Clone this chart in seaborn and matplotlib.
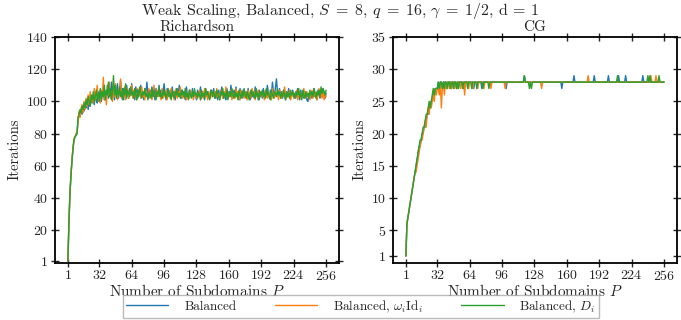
import matplotlib
matplotlib.use('Agg')

import matplotlib.pyplot as plt
import seaborn as sns
import pandas as pd
import numpy as np

# Richardson iterations, P = 1..256
rich_bal = [
    1, 24, 42, 54, 63, 71, 76, 78, 79, 80, 88, 93, 91, 95, 92, 97,
    94, 99, 96, 101, 95, 100, 97, 103, 99, 102, 98, 104, 101, 99, 106, 102,
    107, 100, 104, 109, 101, 106, 103, 110, 102, 108, 105, 112, 103, 107, 101, 109,
    104, 111, 102, 106, 113, 104, 108, 101, 107, 103, 110, 105, 102, 108, 104, 111,
    103, 106, 101, 109, 105, 102, 107, 104, 110, 103, 106, 101, 108, 104, 112, 105,
    102, 107, 104, 109, 103, 106, 101, 108, 105, 103, 110, 104, 107, 102, 106, 111,
    104, 101, 108, 105, 103, 107, 102, 109, 104, 106, 101, 108, 103, 105, 110, 104,
    102, 107, 103, 106, 101, 109, 104, 102, 107, 105, 103, 108, 102, 106, 104, 101,
    107, 103, 105, 109, 102, 106, 104, 101, 108, 103, 106, 104, 102, 107, 105, 103,
    108, 102, 106, 104, 101, 107, 103, 105, 109, 102, 106, 103, 101, 108, 104, 106,
    103, 110, 105, 102, 107, 104, 109, 103, 106, 101, 108, 104, 102, 107, 105, 103,
    106, 102, 108, 104, 101, 107, 103, 105, 102, 109, 104, 106, 101, 107, 103, 105,
    102, 108, 104, 106, 103, 110, 105, 102, 107, 104, 112, 106, 103, 109, 114, 105,
    103, 108, 104, 106, 102, 107, 104, 101, 106, 103, 108, 102, 105, 103, 107, 104,
    102, 106, 103, 108, 104, 101, 107, 103, 105, 102, 106, 104, 101, 100, 105, 103,
    106, 102, 104, 108, 103, 105, 101, 107, 104, 102, 106, 103, 108, 104, 102, 105,
]
rich_omega = [
    1, 25, 43, 55, 64, 71, 77, 78, 80, 81, 87, 94, 90, 96, 98, 93,
    100, 95, 102, 97, 104, 98, 106, 100, 103, 99, 108, 101, 105, 110, 100, 104,
    99, 107, 103, 115, 101, 105, 98, 109, 104, 112, 102, 106, 100, 108, 103, 111,
    105, 101, 107, 104, 114, 102, 106, 103, 109, 101, 105, 108, 102, 106, 104, 110,
    102, 107, 103, 105, 101, 108, 104, 106, 102, 109, 103, 105, 101, 107, 104, 102,
    108, 103, 106, 101, 105, 110, 104, 102, 107, 103, 106, 104, 101, 108, 102, 105,
    103, 107, 101, 106, 104, 102, 108, 103, 105, 101, 107, 104, 102, 106, 103, 109,
    104, 102, 106, 103, 108, 101, 105, 104, 102, 107, 103, 105, 101, 106, 104, 102,
    105, 103, 107, 101, 104, 106, 102, 108, 103, 105, 101, 106, 104, 102, 107, 103,
    104, 106, 102, 108, 103, 105, 101, 107, 104, 102, 106, 103, 109, 104, 102, 105,
    103, 107, 101, 105, 104, 102, 108, 103, 106, 104, 101, 107, 103, 105, 102, 106,
    104, 101, 107, 103, 105, 102, 108, 104, 106, 101, 105, 103, 107, 102, 104, 106,
    103, 105, 101, 107, 104, 102, 106, 103, 105, 101, 108, 104, 102, 106, 103, 105,
    101, 107, 104, 102, 106, 103, 109, 104, 102, 105, 103, 107, 101, 104, 106, 102,
    105, 103, 107, 101, 104, 106, 102, 105, 103, 108, 104, 102, 106, 103, 105, 101,
    104, 107, 102, 105, 103, 106, 101, 104, 108, 103, 105, 102, 106, 101, 104, 103,
]
rich_d = [
    1, 25, 43, 54, 63, 70, 76, 78, 79, 80, 90, 92, 95, 93, 97, 95,
    99, 96, 101, 98, 103, 100, 97, 104, 101, 106, 99, 103, 107, 101, 105, 100,
    108, 102, 106, 103, 110, 101, 107, 104, 112, 103, 108, 101, 106, 116, 104, 110,
    102, 107, 104, 109, 103, 106, 101, 108, 104, 111, 102, 107, 105, 103, 109, 104,
    106, 102, 108, 104, 101, 107, 103, 109, 105, 102, 106, 104, 108, 103, 105, 101,
    106, 104, 102, 108, 103, 107, 105, 101, 106, 104, 109, 103, 105, 102, 107, 104,
    106, 102, 104, 108, 103, 105, 101, 107, 104, 102, 106, 104, 108, 103, 105, 102,
    107, 104, 106, 102, 108, 103, 105, 101, 107, 104, 102, 106, 103, 108, 104, 105,
    102, 106, 104, 101, 107, 103, 105, 102, 108, 104, 106, 103, 101, 105, 107, 103,
    106, 104, 102, 107, 105, 103, 101, 106, 104, 108, 102, 105, 103, 107, 101, 104,
    106, 103, 108, 104, 102, 106, 103, 105, 101, 107, 104, 102, 106, 103, 108, 104,
    102, 106, 104, 101, 105, 107, 103, 106, 104, 102, 108, 103, 105, 101, 106, 104,
    107, 103, 105, 102, 108, 104, 106, 103, 101, 107, 104, 102, 106, 105, 103, 108,
    104, 106, 102, 105, 103, 107, 104, 101, 106, 103, 105, 102, 107, 104, 106, 103,
    105, 102, 106, 104, 108, 103, 105, 101, 107, 104, 102, 106, 103, 105, 102, 107,
    104, 106, 103, 108, 105, 102, 106, 104, 107, 103, 109, 105, 108, 106, 104, 107,
]

# CG iterations, P = 1..256
cg_bal = [
    1, 6, 7, 8, 9, 10, 11, 12, 13, 14, 15, 16, 17, 18, 18, 19,
    20, 20, 21, 21, 22, 23, 23, 24, 24, 25, 25, 26, 26, 27, 27, 27,
    28, 27, 28, 28, 27, 28, 28, 28, 27, 28, 28, 28, 28, 27, 28, 28,
    28, 28, 27, 28, 28, 28, 28, 28, 28, 27, 28, 28, 28, 28, 28, 28,
    28, 28, 28, 27, 28, 28, 28, 28, 28, 28, 28, 27, 28, 28, 28, 28,
    28, 28, 28, 28, 28, 28, 28, 28, 28, 28, 28, 28, 28, 28, 28, 28,
    28, 28, 28, 27, 28, 28, 28, 28, 28, 28, 28, 28, 28, 28, 28, 28,
    28, 28, 28, 28, 28, 29, 28, 28, 28, 28, 28, 28, 28, 28, 28, 28,
    28, 28, 28, 28, 28, 28, 28, 28, 28, 28, 28, 28, 28, 28, 28, 28,
    28, 28, 28, 28, 28, 28, 28, 28, 28, 28, 27, 28, 28, 28, 28, 28,
    28, 28, 28, 28, 28, 28, 29, 28, 28, 28, 28, 28, 28, 28, 28, 28,
    28, 28, 28, 28, 28, 28, 28, 28, 28, 28, 29, 28, 28, 28, 28, 28,
    28, 28, 28, 28, 28, 28, 28, 28, 29, 28, 28, 28, 28, 28, 28, 28,
    28, 28, 29, 28, 28, 28, 28, 28, 28, 29, 28, 28, 28, 28, 28, 28,
    28, 28, 28, 28, 28, 28, 28, 28, 28, 28, 29, 28, 28, 28, 28, 28,
    28, 28, 28, 28, 28, 28, 28, 28, 28, 28, 28, 28, 28, 28, 28, 28,
]
cg_omega = [
    1, 6, 7, 8, 9, 10, 11, 12, 13, 14, 14, 15, 16, 17, 18, 19,
    19, 20, 21, 22, 21, 23, 24, 23, 25, 24, 25, 26, 25, 27, 26, 27,
    27, 26, 28, 24, 27, 28, 26, 28, 27, 28, 28, 27, 28, 27, 28, 28,
    27, 28, 28, 27, 28, 28, 27, 28, 28, 28, 26, 28, 28, 28, 27, 28,
    28, 28, 27, 28, 28, 28, 28, 27, 28, 28, 28, 28, 28, 27, 28, 28,
    28, 28, 28, 28, 27, 28, 28, 28, 28, 28, 28, 28, 28, 28, 28, 28,
    28, 28, 27, 28, 28, 28, 28, 28, 28, 28, 28, 28, 28, 28, 28, 28,
    28, 28, 28, 28, 28, 28, 28, 28, 28, 28, 28, 28, 28, 28, 28, 28,
    28, 28, 28, 28, 28, 28, 27, 28, 28, 28, 28, 28, 28, 28, 28, 28,
    28, 28, 28, 28, 28, 28, 28, 28, 28, 28, 28, 28, 28, 28, 28, 28,
    28, 28, 28, 28, 28, 28, 28, 28, 28, 28, 28, 28, 28, 28, 28, 28,
    28, 28, 28, 28, 29, 28, 28, 28, 28, 28, 28, 28, 28, 28, 28, 28,
    28, 28, 28, 28, 28, 28, 28, 28, 28, 28, 28, 28, 28, 28, 28, 28,
    28, 28, 28, 28, 28, 28, 28, 28, 28, 28, 28, 28, 28, 28, 28, 28,
    28, 28, 28, 28, 28, 28, 28, 28, 28, 28, 28, 28, 28, 28, 28, 28,
    28, 28, 29, 28, 28, 28, 28, 29, 28, 28, 28, 28, 28, 28, 28, 28,
]
cg_d = [
    1, 6, 7, 8, 9, 10, 11, 12, 13, 14, 15, 16, 17, 18, 19, 19,
    20, 21, 21, 22, 23, 23, 24, 25, 24, 25, 26, 27, 26, 27, 27, 27,
    28, 27, 28, 28, 27, 28, 27, 28, 28, 27, 28, 28, 27, 28, 28, 27,
    28, 28, 27, 28, 27, 28, 28, 28, 27, 28, 28, 28, 28, 27, 28, 28,
    28, 27, 28, 28, 28, 28, 27, 28, 28, 28, 28, 28, 27, 28, 28, 28,
    28, 28, 27, 28, 28, 28, 28, 28, 28, 28, 28, 28, 28, 28, 28, 28,
    28, 28, 28, 28, 28, 28, 28, 28, 28, 28, 28, 28, 28, 28, 28, 28,
    28, 28, 28, 28, 28, 29, 28, 28, 28, 28, 27, 28, 27, 28, 28, 28,
    28, 28, 28, 28, 28, 28, 28, 28, 28, 28, 28, 28, 28, 28, 28, 28,
    28, 28, 28, 28, 28, 28, 28, 28, 28, 28, 28, 28, 28, 28, 28, 28,
    28, 28, 28, 28, 28, 28, 28, 28, 28, 28, 28, 28, 28, 28, 28, 28,
    28, 28, 28, 28, 28, 28, 28, 28, 28, 28, 28, 28, 28, 28, 28, 28,
    28, 28, 28, 28, 28, 28, 28, 28, 28, 28, 28, 28, 28, 28, 28, 28,
    28, 29, 28, 28, 28, 28, 28, 28, 28, 28, 28, 28, 28, 28, 28, 28,
    28, 28, 28, 28, 28, 28, 28, 28, 28, 28, 28, 28, 28, 28, 28, 29,
    28, 29, 28, 28, 28, 28, 28, 28, 28, 28, 29, 28, 28, 28, 28, 28,
]

labels = ['Balanced', r'Balanced, $\omega_i \mathrm{Id}_i$', r'Balanced, $D_i$']
colors = ['#1f77b4', '#ff7f0e', '#2ca02c']
x_ticks = [1, 32, 64, 96, 128, 160, 192, 224, 256]
rich_yticks = [1, 20, 40, 60, 80, 100, 120, 140]
cg_yticks = [1, 5, 10, 15, 20, 25, 30, 35]


def to_frame(series):
    rows = []
    for lab, ys in zip(labels, series):
        for p, v in enumerate(ys, start=1):
            rows.append({'P': p, 'it': v, 'method': lab})
    return pd.DataFrame(rows)


sns.set_theme(style='ticks')
plt.rcParams['font.family'] = ['cmr10', 'DejaVu Serif']
plt.rcParams['mathtext.fontset'] = 'cm'
plt.rcParams['axes.formatter.use_mathtext'] = True
plt.rcParams['axes.unicode_minus'] = False

fig = plt.figure(figsize=(6.81, 3.2), dpi=100)
ax1 = fig.add_axes([55 / 681, 57.5 / 320, 284 / 681, 225.5 / 320])
ax2 = fig.add_axes([393 / 681, 57.5 / 320, 284 / 681, 225.5 / 320])

panels = [
    (ax1, to_frame([rich_bal, rich_omega, rich_d]), 'Richardson', rich_yticks, 140),
    (ax2, to_frame([cg_bal, cg_omega, cg_d]), 'CG', cg_yticks, 35),
]

for ax, df, title, yt, ytop in panels:
    sns.lineplot(data=df, x='P', y='it', hue='method', palette=colors,
                 hue_order=labels, ax=ax, linewidth=1.0, legend=False)
    ax.set_xlim(-11.75, 268.75)
    ax.set_ylim(0, ytop)
    ax.set_xticks(x_ticks)
    ax.set_yticks(yt)
    ax.set_xlabel('Number of Subdomains $P$', fontsize=11, labelpad=0)
    ax.set_ylabel('Iterations', fontsize=10.5, labelpad=3)
    ax.set_title(title, fontsize=11, pad=4.5)
    ax.tick_params(direction='inout', length=6, width=1.0, top=True, right=True,
                   labelsize=10, pad=2)
    for s in ax.spines.values():
        s.set_linewidth(1.3)
        s.set_color('black')

fig.suptitle(r'Weak Scaling, Balanced, $S\;=\;8$, $q\;=\;16$, $\gamma\;=\;1/2$, d = 1',
             fontsize=11.5, y=0.997, va='top')

handles = [plt.Line2D([], [], color=c, linewidth=1.0) for c in colors]
fig.legend(handles, labels, loc='lower center', bbox_to_anchor=(0.53, 2 / 320),
           borderaxespad=0, ncol=3, fontsize=9.5, frameon=True, fancybox=False,
           edgecolor='#aaaaaa', handlelength=3.2, columnspacing=2.9,
           borderpad=0.25, handletextpad=1.2)

fig.savefig('out.png', dpi=100)
